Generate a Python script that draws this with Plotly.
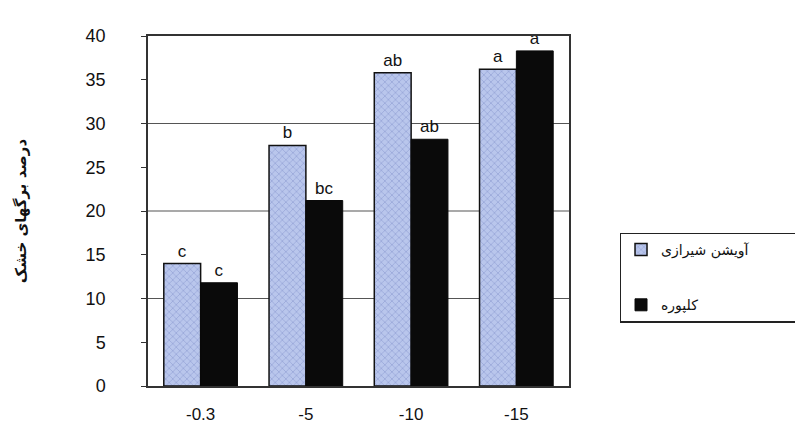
import plotly.graph_objects as go

categories = ["-0.3", "-5", "-10", "-15"]
series_names = ["آویشن شیرازی", "کلپوره"]
thyme_values = [14, 27.5, 35.8, 36.2]
kalpoureh_values = [11.8, 21.2, 28.2, 38.3]
thyme_letters = ["c", "b", "ab", "a"]
kalpoureh_letters = ["c", "bc", "ab", "a"]
y_ticks = [0, 5, 10, 15, 20, 25, 30, 35, 40]
grid_levels = [10, 20, 30]

fig = go.Figure()
fig.add_trace(go.Bar(
    x=categories, y=thyme_values, name=series_names[0] + "          ",
    legendgroup="g1",
    text=thyme_letters, textposition="outside",
    textfont=dict(family="Liberation Sans, Arial", size=17, color="#111"),
    marker=dict(color="#b9c6ec", line=dict(color="#111", width=1.5),
                pattern=dict(shape="x", fgcolor="#6f7fc0", size=5, solidity=0.25)),
    cliponaxis=False,
))
fig.add_trace(go.Bar(
    x=categories, y=kalpoureh_values, name=series_names[1],
    legendgroup="g2",
    text=kalpoureh_letters, textposition="outside",
    textfont=dict(family="Liberation Sans, Arial", size=17, color="#111"),
    marker=dict(color="#0a0a0a", line=dict(color="#0a0a0a", width=1)),
    cliponaxis=False,
))

for g in grid_levels:
    fig.add_shape(type="line", xref="paper", yref="y", x0=0, x1=1, y0=g, y1=g,
                  line=dict(color="#555", width=1.2), layer="below")

fig.update_layout(
    width=803, height=430,
    paper_bgcolor="white", plot_bgcolor="white",
    margin=dict(l=135, r=231, t=28, b=52),
    barmode="group", bargap=0.3, bargroupgap=0,
    font=dict(family="Liberation Sans, Arial", size=16, color="#111"),
    showlegend=True,
    legend=dict(
        x=1.12, y=0.31, xanchor="left", yanchor="middle",
        bordercolor="#222", borderwidth=1.5, bgcolor="white",
        font=dict(family="DejaVu Sans", size=14, color="#111"),
        tracegroupgap=34, itemwidth=30,
    ),
    xaxis=dict(
        showline=True, linecolor="#333", linewidth=1.5,
        ticks="", ticklabelstandoff=12,
        tickfont=dict(size=17),
    ),
    yaxis=dict(
        range=[0, 40], tickvals=y_ticks, showgrid=False,
        showline=True, linecolor="#333", linewidth=1.5, mirror=True,
        ticks="outside", ticklen=5, tickcolor="#333",
        ticklabelstandoff=32, tickfont=dict(size=18),
        title=dict(text="<b>درصد برگهای خشک</b>",
                   font=dict(family="DejaVu Sans", size=15, color="#111"),
                   standoff=55),
    ),
)
fig.update_xaxes(mirror=True)

fig.write_html("out.html")
